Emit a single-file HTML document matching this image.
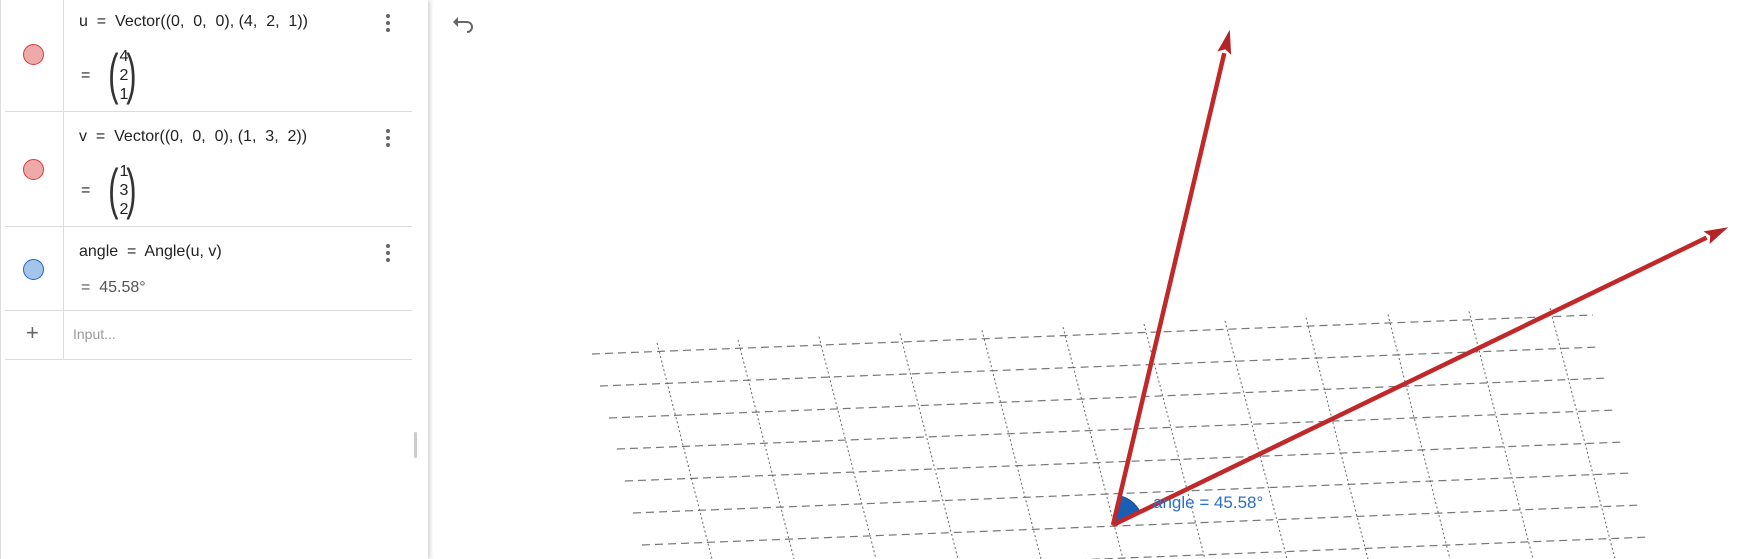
<!DOCTYPE html>
<html><head><meta charset="utf-8"><style>
body{margin:0;width:1750px;height:559px;overflow:hidden;background:#fff;font-family:"Liberation Sans",sans-serif;position:relative}
.panel{position:absolute;left:0;top:0;width:427px;height:559px;background:#fff;box-shadow:2px 0 4px rgba(0,0,0,0.18);border-left:1px solid #ddd}
.row{position:absolute;left:4px;width:407px;border-bottom:1px solid #dcdcdc}
.sep{position:absolute;left:62px;top:0;width:1px;height:360px;background:#dcdcdc}
.dot{position:absolute;width:19px;height:19px;border-radius:50%;left:22px}
.red{background:#eea9a9;border:1px solid #d83a3a}
.blue{background:#a5c4ea;border:1px solid #1e63c9}
.t{position:absolute;font-size:16px;color:#222;white-space:nowrap}
.menu{position:absolute;left:385px;width:4px}
.menu i{display:block;width:4px;height:4px;border-radius:50%;background:#666;margin-bottom:3px}
.mat{position:absolute;font-size:16px;line-height:19px;text-align:center;width:14px;color:#222}
.par{position:absolute;font-size:56px;font-weight:200;color:#333;transform:scaleX(0.55);line-height:60px}
</style></head><body>
<div class="panel">
<div class="sep"></div>
<div class="row" style="top:0;height:111px"></div>
<div class="row" style="top:112px;height:114px"></div>
<div class="row" style="top:227px;height:83px"></div>
<div class="row" style="top:311px;height:48px"></div>
<div class="dot red" style="top:44px"></div>
<div class="dot red" style="top:159px"></div>
<div class="dot blue" style="top:259px"></div>
<div class="t" style="left:78px;top:13px">u &nbsp;=&nbsp; Vector((0,&nbsp; 0,&nbsp; 0), (4,&nbsp; 2,&nbsp; 1))</div>
<div class="t" style="left:80px;top:67px">=</div>
<div class="par" style="left:103px;top:44px">(</div>
<div class="par" style="left:121px;top:44px">)</div>
<div class="mat" style="left:116px;top:47px">4<br>2<br>1</div>
<div class="t" style="left:78px;top:128px">v &nbsp;=&nbsp; Vector((0,&nbsp; 0,&nbsp; 0), (1,&nbsp; 3,&nbsp; 2))</div>
<div class="t" style="left:80px;top:182px">=</div>
<div class="par" style="left:103px;top:159px">(</div>
<div class="par" style="left:121px;top:159px">)</div>
<div class="mat" style="left:116px;top:162px">1<br>3<br>2</div>
<div class="t" style="left:78px;top:243px">angle &nbsp;=&nbsp; Angle(u, v)</div>
<div class="t" style="left:80px;top:279px;color:#555">= &nbsp;45.58°</div>
<div class="t" style="left:25px;top:320px;font-size:22px;color:#666">+</div>
<div class="t" style="left:72px;top:326px;font-size:14px;color:#999">Input...</div>
<div class="menu" style="top:14px"><i></i><i></i><i></i></div>
<div class="menu" style="top:129px"><i></i><i></i><i></i></div>
<div class="menu" style="top:244px"><i></i><i></i><i></i></div>
<div style="position:absolute;left:413px;top:432px;width:3px;height:26px;background:#ccc;border-radius:2px"></div>
</div>
<svg id="v3d" width="1750" height="559" style="position:absolute;left:0;top:0;pointer-events:none">
<g transform="translate(462,25)" style="pointer-events:auto">
<path d="M-6,-3 L5,-3 A5,5 0 0 1 5,7" fill="none" stroke="#666" stroke-width="2"/>
<path d="M-9,-3 L-4,-8 L-4,2 Z" fill="#666"/>
</g>
</svg>
<script>
// grid (screen-space xy-plane)
const hLeft=[[592,354],[600,386],[609,418],[617,449],[625,481],[633,513],[642,545],[650,577]];
const hRight=[[1593,315],[1600,347],[1609,378],[1617,410],[1625,442],[1633,473],[1642,505],[1650,537]];
const vTopX=[657,738,819,900,982,1063,1144,1225,1306,1388,1469,1550];
const vBotX=[712,794,876,958,1041,1123,1205,1287,1368,1450,1533,1615];
// vectors
const vecU=[4,2,1];
const vecV=[1,3,2];
const angleLabel="angle = 45.58°";
const svg=document.getElementById('v3d');
const NS='http://www.w3.org/2000/svg';
const O=[1113,525], EX=[-88,-119], EY=[234.4,140.4], EZ=[0,-300];
function proj(p){return [O[0]+p[0]*EX[0]+p[1]*EY[0]+p[2]*EZ[0], O[1]+p[0]*EX[1]+p[1]*EY[1]+p[2]*EZ[1]];}
function mk(t,a){const e=document.createElementNS(NS,t);for(const k in a)e.setAttribute(k,a[k]);svg.appendChild(e);return e;}
hLeft.forEach((l,i)=>{const r=hRight[i];
 const e=mk('line',{x1:l[0],y1:l[1],x2:r[0],y2:r[1],stroke:'#777','stroke-width':1.2,'stroke-dasharray':'8 5'});
 
 });
vTopX.forEach((x,i)=>{const ty=343-(x-657)*0.039;
 const e=mk('line',{x1:x,y1:ty,x2:vBotX[i],y2:559,stroke:'#666','stroke-width':1,'stroke-dasharray':'2 2.5'});
 
 });
function arrow(vec,name){const t=proj(vec);const dx=t[0]-O[0],dy=t[1]-O[1],L=Math.hypot(dx,dy),ux=dx/L,uy=dy/L;
 const hl=24,hw=7,bx=t[0]-ux*hl,by=t[1]-uy*hl;
 const l=mk('line',{x1:O[0],y1:O[1],x2:bx,y2:by,stroke:'#c0282a','stroke-width':4.5});
 
 
 const h=mk('polygon',{points:`${t[0]},${t[1]} ${bx-uy*hw},${by+ux*hw} ${bx+ux*4},${by+uy*4} ${bx+uy*hw},${by-ux*hw}`,fill:'#b42326'});
 
 
 return Math.atan2(dy,dx);}
const pu=proj(vecU),pv=proj(vecV);
const au=Math.atan2(pu[1]-O[1],pu[0]-O[0]),av=Math.atan2(pv[1]-O[1],pv[0]-O[0]);
const R=30;
const sec=mk('path',{d:`M${O[0]},${O[1]} L${O[0]+R*Math.cos(au)},${O[1]+R*Math.sin(au)} A${R},${R} 0 0 1 ${O[0]+R*Math.cos(av)},${O[1]+R*Math.sin(av)} Z`,fill:'#1a5fb4',stroke:'#134a8e','stroke-width':1});


arrow(vecU,'vector-u');
arrow(vecV,'vector-v');
const tx=mk('text',{x:1153,y:508,fill:'#2a6fcc','font-size':17,'font-family':'Liberation Sans, sans-serif'});
tx.textContent=angleLabel;


</script>
</body></html>
